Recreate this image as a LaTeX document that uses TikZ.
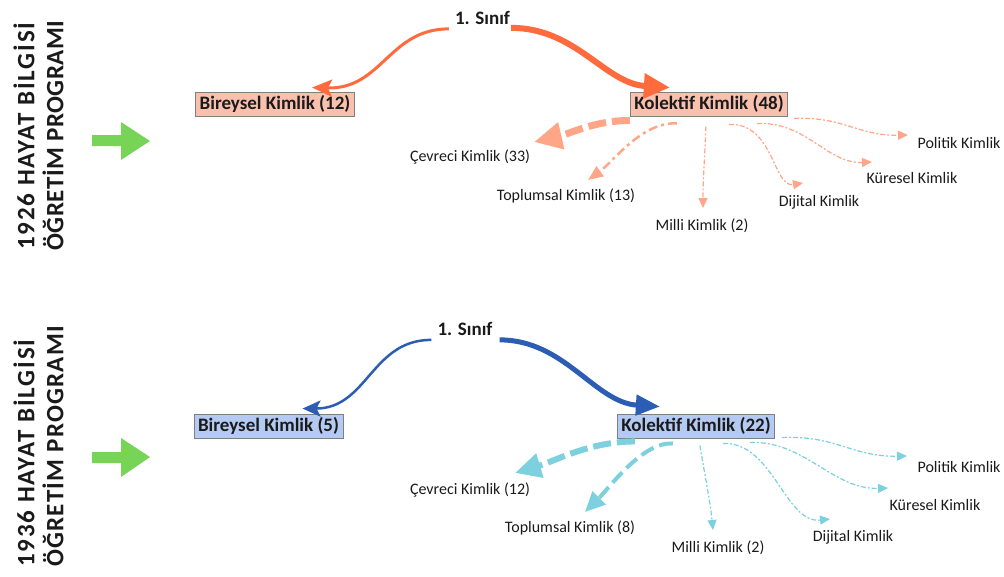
\documentclass[tikz,border=0pt]{standalone}
\usepackage{fontspec}
\setmainfont{Carlito}
\usetikzlibrary{arrows.meta,calc}
\definecolor{orangemain}{HTML}{FF6B3D}
\definecolor{salmonbox}{HTML}{F9C0AE}
\definecolor{salmonarr}{HTML}{FFA689}
\definecolor{bluemain}{HTML}{2C5DB5}
\definecolor{bluebox}{HTML}{B4CAF2}
\definecolor{cyanarr}{HTML}{7DD0DE}
\definecolor{greenarr}{HTML}{78D457}
\definecolor{boxborder}{HTML}{7F7F7F}
\definecolor{textcol}{HTML}{1A1A1A}
\tikzset{
  titletext/.style={text=textcol, rotate=90, anchor=west, inner sep=0pt},
  grade/.style={font=\fontsize{19}{22}\selectfont\bfseries, text=textcol, inner sep=1pt},
  kbox/.style={draw=boxborder, line width=0.9pt, font=\fontsize{19}{22}\selectfont\bfseries, text=textcol, inner xsep=4pt, inner ysep=0pt, minimum height=24pt},
  kboxA/.style={kbox, fill=salmonbox},
  kboxB/.style={kbox, fill=bluebox},
  sublabel/.style={font=\fontsize{16}{18}\selectfont, text=textcol, inner sep=1pt},
  thickdash/.style={dash pattern=on 18pt off 6pt},
  middash/.style={dash pattern=on 9pt off 4pt on 3pt off 4pt},
  thindash/.style={dash pattern=on 5pt off 2pt on 2pt off 2pt}
}
\begin{document}
\begin{tikzpicture}[x=1pt,y=-1pt]
\useasboundingbox (0,0) rectangle (1004,576);

% ---------- 1926 ----------
\node[titletext, font=\fontsize{25}{28}\selectfont\bfseries\addfontfeature{LetterSpace=7.5}] (t1a) at (24,250) {1926 HAYAT BİLGİSİ};
\node[titletext, font=\fontsize{25}{28}\selectfont\bfseries\addfontfeature{LetterSpace=2}] (t1b) at (53,251) {ÖĞRETİM PROGRAMI};
\fill[greenarr] (92,135) -- (121,135) -- (121,122) -- (150,141) -- (121,160) -- (121,146) -- (92,146) -- cycle;

\node[grade] (s1) at (482.5,18) {1. Sınıf};
\node[kboxA] (bir1) at (275,104) {Bireysel Kimlik (12)};
\node[kboxA] (kol1) at (709,104) {Kolektif Kimlik (48)};

\draw[orangemain, line width=3pt, -{Stealth[length=20pt,width=17pt,inset=4pt]}]
  ($(s1.south west)+(-5,3)$) .. controls +(-60,0) and +(70,2) .. ($(bir1.north)+(37,-4)$);
\draw[orangemain, line width=6pt, -{Triangle[length=26pt,width=24pt]}]
  ($(s1.south east)+(0,2)$) .. controls +(65,0) and +(-65,-4) .. ($(kol1.north west)+(40,-4)$);

\node[sublabel] (cev1) at (470,157) {Çevreci Kimlik (33)};
\node[sublabel] (top1) at (566,196) {Toplumsal Kimlik (13)};
\node[sublabel] (mil1) at (702,226) {Milli Kimlik (2)};
\node[sublabel] (dij1) at (819,202) {Dijital Kimlik};
\node[sublabel] (kur1) at (912,178) {Küresel Kimlik};
\node[sublabel] (pol1) at (959,143) {Politik Kimlik};

\draw[salmonarr, line width=7pt, thickdash, -{Triangle[length=28pt,width=26pt]}]
  ($(kol1.south west)+(0,4)$) .. controls +(-35,0) and +(35,-8) .. ($(cev1)+(64,-15)$);
\draw[salmonarr, line width=2.5pt, middash, -{Triangle[length=15pt,width=12pt]}]
  ($(kol1.south west)+(47,7)$) .. controls +(-35,-2) and +(25,-18) .. ($(top1)+(22,-16)$);
\draw[salmonarr, line width=1.2pt, thindash, -{Triangle[length=10pt,width=9pt]}]
  ($(kol1.south west)+(76,10)$) .. controls +(-1,30) and +(0,-30) .. ($(mil1)+(1,-18)$);
\draw[salmonarr, line width=1.2pt, thindash, -{Triangle[length=10pt,width=9pt]}]
  ($(kol1.south west)+(99,8)$) .. controls +(45,-2) and +(-30,5) .. ($(dij1)+(-16,-19)$);
\draw[salmonarr, line width=1.2pt, thindash, -{Triangle[length=10pt,width=9pt]}]
  ($(kol1.south west)+(127,7)$) .. controls +(50,-2) and +(-45,2) .. ($(kur1)+(-40,-16)$);
\draw[salmonarr, line width=1.2pt, thindash, -{Triangle[length=10pt,width=9pt]}]
  ($(kol1.south east)+(6,2)$) .. controls +(50,-2) and +(-50,1) .. ($(pol1)+(-51,-8)$);

% ---------- 1936 ----------
\node[titletext, font=\fontsize{25}{28}\selectfont\bfseries\addfontfeature{LetterSpace=7.5}] (t2a) at (24,567) {1936 HAYAT BİLGİSİ};
\node[titletext, font=\fontsize{25}{28}\selectfont\bfseries\addfontfeature{LetterSpace=5}] (t2b) at (53,567) {ÖĞRETİM PROGRAMI};
\fill[greenarr] (92,452) -- (121,452) -- (121,438) -- (150,457) -- (121,477) -- (121,463) -- (92,463) -- cycle;

\node[grade] (s2) at (465,329) {1. Sınıf};
\node[kboxB] (bir2) at (268.5,426) {Bireysel Kimlik (5)};
\node[kboxB] (kol2) at (696,426) {Kolektif Kimlik (22)};

\draw[bluemain, line width=2.5pt, -{Stealth[length=18pt,width=16pt,inset=4pt]}]
  ($(s2.south west)+(-5,3)$) .. controls +(-60,0) and +(65,0) .. ($(bir2.north)+(34,-5)$);
\draw[bluemain, line width=5pt, -{Triangle[length=24pt,width=20pt]}]
  ($(s2.south east)+(6,3)$) .. controls +(65,0) and +(-65,-4) .. ($(kol2.north west)+(43,-7)$);

\node[sublabel] (cev2) at (470,490) {Çevreci Kimlik (12)};
\node[sublabel] (top2) at (570,528) {Toplumsal Kimlik (8)};
\node[sublabel] (mil2) at (718,548) {Milli Kimlik (2)};
\node[sublabel] (dij2) at (853,537) {Dijital Kimlik};
\node[sublabel] (kur2) at (935,505) {Küresel Kimlik};
\node[sublabel] (pol2) at (959,467) {Politik Kimlik};

\draw[cyanarr, line width=6pt, thickdash, -{Triangle[length=26pt,width=24pt]}]
  ($(kol2.south west)+(18,3)$) .. controls +(-45,0) and +(40,-12) .. ($(cev2)+(45,-17)$);
\draw[cyanarr, line width=4pt, dash pattern=on 14pt off 6pt, -{Triangle[length=20pt,width=18pt]}]
  ($(kol2.south west)+(56,5)$) .. controls +(-30,-2) and +(25,-25) .. ($(top2)+(15,-16)$);
\draw[cyanarr, line width=1.2pt, thindash, -{Triangle[length=10pt,width=9pt]}]
  ($(kol2.south west)+(83,7)$) .. controls +(5,30) and +(-3,-30) .. ($(mil2)+(-5,-18)$);
\draw[cyanarr, line width=1.2pt, thindash, -{Triangle[length=10pt,width=9pt]}]
  ($(kol2.south west)+(106,5)$) .. controls +(50,-2) and +(-45,5) .. ($(dij2)+(-23,-18)$);
\draw[cyanarr, line width=1.2pt, thindash, -{Triangle[length=10pt,width=9pt]}]
  ($(kol2.south west)+(133,4)$) .. controls +(55,-2) and +(-55,2) .. ($(kur2)+(-47,-17)$);
\draw[cyanarr, line width=1.2pt, thindash, -{Triangle[length=10pt,width=9pt]}]
  ($(kol2.south east)+(7,-1)$) .. controls +(55,-2) and +(-55,1) .. ($(pol2)+(-52,-11)$);
\end{tikzpicture}
\end{document}
